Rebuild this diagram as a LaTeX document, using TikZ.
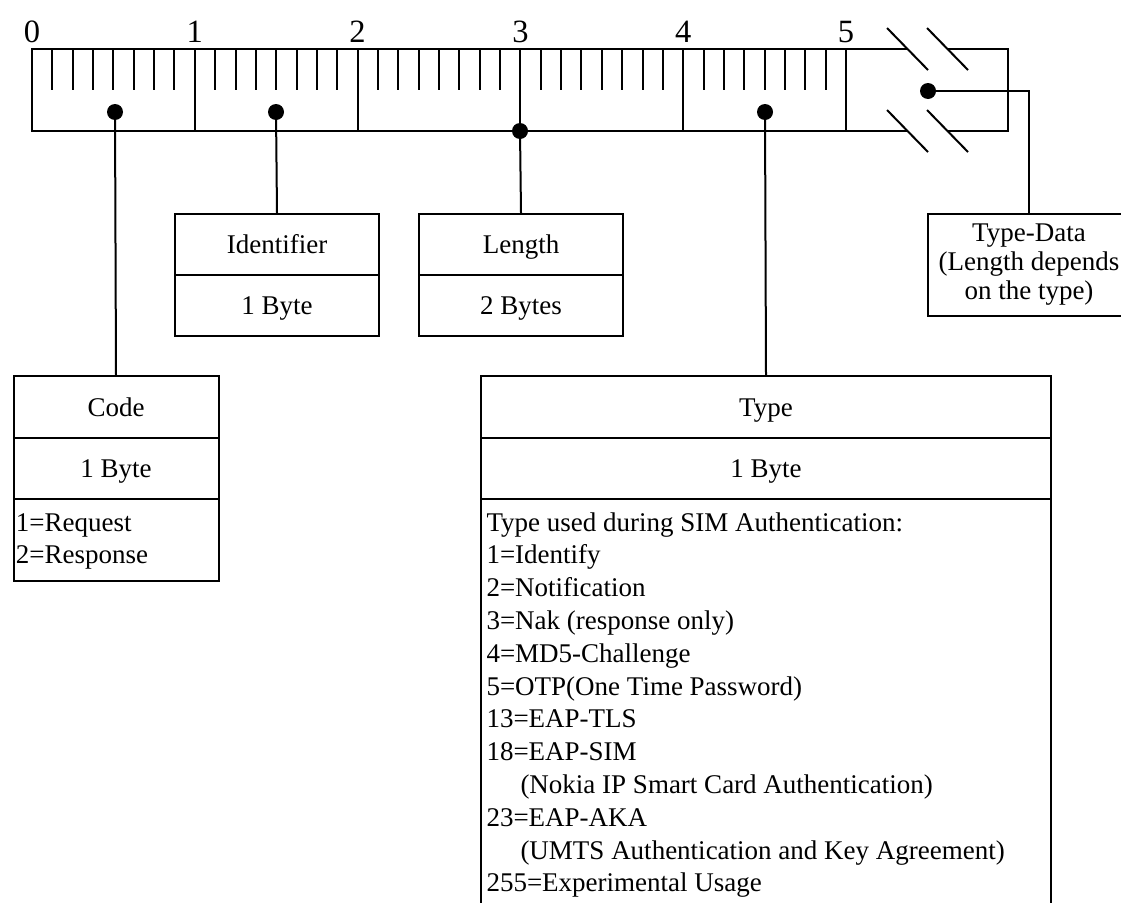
\documentclass[tikz,border=0pt]{standalone}
\usepackage{fontspec}
\setmainfont{Liberation Serif}
\newcommand\lblsize{\fontsize{27}{32.8}\selectfont}
\newcommand\numsize{\fontsize{32.5}{36}\selectfont}
\begin{document}
\begin{tikzpicture}[x=1pt,y=-1pt,line width=2pt,
  cell/.style={draw,rectangle,inner sep=0pt,anchor=north west,font=\lblsize},
  onecell/.style={cell,text height=21pt,text depth=3pt},
  dot/.style={circle,fill,inner sep=0pt,minimum size=16pt},
  num/.style={anchor=base,inner sep=0pt,font=\numsize},
  item/.style={anchor=base west,inner sep=0pt,font=\lblsize}]
\clip (0,0) rectangle (1121,902);

% ruler: five bytes of eight bits each
\draw (32,49) rectangle (846,131);
\foreach \b in {1,...,4}
  \draw (32+162.8*\b,49) -- (32+162.8*\b,131);
\foreach \b in {0,...,4}
  \foreach \k in {1,...,7}
    \draw (32+162.8*\b+20.35*\k,49) -- (32+162.8*\b+20.35*\k,90);
\foreach \b in {0,...,5}
  \node[num] (n\b) at (32+162.8*\b,42) {\b};

% open-ended data field with break marks
\draw (846,49) -- (908,49);
\draw (948,49) -- (1008,49) -- (1008,131) -- (948,131);
\draw (908,131) -- (846,131);
\draw (887,28) -- (928,70);
\draw (927,28) -- (968,70);
\draw (887,110) -- (928,152);
\draw (927,110) -- (968,152);

% field markers
\node[dot] (dcode) at (115,112) {};
\node[dot] (did) at (276,112) {};
\node[dot] (dlen) at (520,131) {};
\node[dot] (dtype) at (765,112) {};
\node[dot] (ddata) at (928,91) {};

% Identifier
\node[onecell,minimum width=204pt,minimum height=61pt] (idhead) at (174,213) {Identifier};
\node[onecell,minimum width=204pt,minimum height=61pt] (idbyte) at (174,274) {1 Byte};

% Length
\node[onecell,minimum width=204pt,minimum height=61pt] (lenhead) at (418,213) {Length};
\node[onecell,minimum width=204pt,minimum height=61pt] (lenbyte) at (418,274) {2 Bytes};

% Type-Data
\node[cell,minimum width=202pt,minimum height=102pt,align=center,
  font=\fontsize{27}{29}\selectfont] (tdbox) at (927,213)
  {Type-Data\\(Length depends\\on the type)};

% Code
\node[onecell,minimum width=205pt,minimum height=62pt] (codehead) at (12.5,375) {Code};
\node[onecell,minimum width=205pt,minimum height=61pt] (codebyte) at (12.5,437) {1 Byte};
\node[cell,minimum width=205pt,minimum height=82pt] (codelist) at (12.5,498) {};
\node[item] (c1) at (15,531) {1=Request};
\node[item] (c2) at (15,563.8) {2=Response};

% Type
\node[onecell,minimum width=570pt,minimum height=62pt] (typehead) at (480,375) {Type};
\node[onecell,minimum width=570pt,minimum height=61pt] (typebyte) at (480,437) {1 Byte};
\node[cell,minimum width=570pt,minimum height=430pt] (typelist) at (480,498) {};
\foreach \dx/\t [count=\i from 0] in {
  0/{Type used during SIM Authentication:},
  0/{1=Identify},
  0/{2=Notification},
  0/{3=Nak (response only)},
  0/{4=MD5-Challenge},
  0/{5=OTP(One Time Password)},
  0/{13=EAP-TLS},
  0/{18=EAP-SIM},
  34/{(Nokia IP Smart Card Authentication)},
  0/{23=EAP-AKA},
  34/{(UMTS Authentication and Key Agreement)},
  0/{255=Experimental Usage}}
  \node[item] (t\i) at (485.5+\dx,531+32.8*\i) {\t};

% connectors
\draw (dcode.center) -- (codehead.north);
\draw (did.center) -- (idhead.north);
\draw (dlen.center) -- (lenhead.north);
\draw (dtype.center) -- (typehead.north);
\draw (ddata.center) -| (tdbox.north);
\end{tikzpicture}
\end{document}
